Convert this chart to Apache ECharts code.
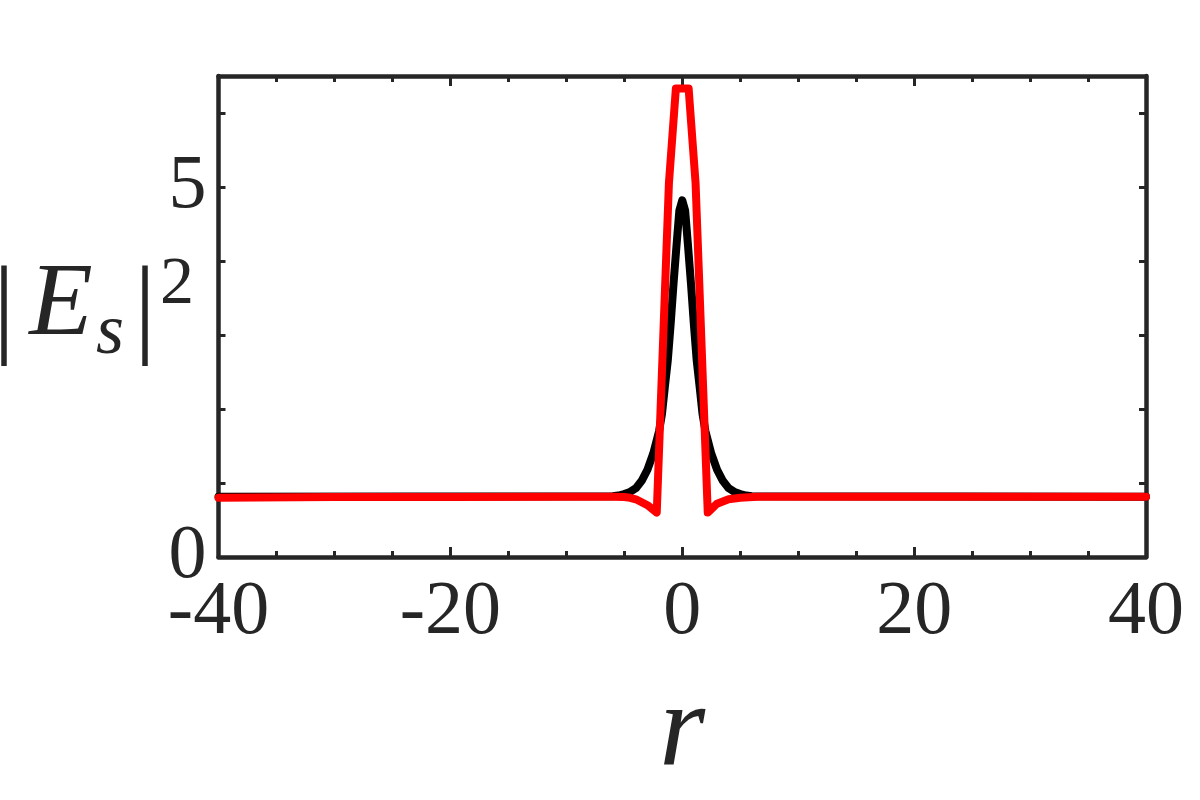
<!DOCTYPE html>
<html lang="en">

<head>
    <meta charset="UTF-8">
    <title>Es profile</title>
    <script src="https://cdn.jsdelivr.net/npm/echarts@6.0.0/dist/echarts.min.js"></script>
    <style>
        html, body { margin: 0; padding: 0; background: #fff; }
    </style>
</head>

<body>
    <div id="main" style="width: 1200px; height: 800px;"></div>
    <script>
        // black curve
        var blackR = [-40, -6, -5.5, -5, -4.5, -4, -3.5, -3, -2.5, -2, -1.75, -1.5, -1.25, -1, -0.75, -0.5, -0.25, 0,
            0.25, 0.5, 0.75, 1, 1.25, 1.5, 1.75, 2, 2.5, 3, 3.5, 4, 4.5, 5, 5.5, 6, 40];
        var blackV = [0.815, 0.82, 0.83, 0.85, 0.88, 0.93, 1.03, 1.18, 1.40, 1.70, 1.93, 2.30, 2.65, 3.15, 3.70, 4.20, 4.68, 4.82,
            4.68, 4.20, 3.70, 3.15, 2.65, 2.30, 1.93, 1.70, 1.40, 1.18, 1.03, 0.93, 0.88, 0.85, 0.83, 0.82, 0.815];

        // red curve
        var redR = [-40, -30, -20, -10, -6, -5, -4.5, -4, -3, -2.2, -1.15, -0.55,
            0.55, 1.15, 2.2, 3, 4, 5, 6.5, 10, 20, 30, 40];
        var redV = [0.80, 0.81, 0.81, 0.815, 0.815, 0.81, 0.80, 0.78, 0.70, 0.60, 5.05, 6.33,
            6.33, 5.05, 0.60, 0.72, 0.78, 0.80, 0.815, 0.815, 0.815, 0.815, 0.815];

        var xLabels = [-40, -20, 0, 20, 40];
        var yLabels = [0, 5];

        function pairs(xs, ys) {
            return xs.map(function (x, i) { return [x, ys[i]]; });
        }

        var ink = '#262626';
        var serif = 'Liberation Serif';

        var chartDom = document.getElementById('main');
        var myChart = echarts.init(chartDom);
        var option;

        function xAxisCfg(pos, showLabel) {
            return {
                type: 'value', position: pos, min: -40, max: 40, interval: 20,
                axisLine: { show: true, onZero: false, lineStyle: { color: ink, width: 4.5 } },
                axisTick: { show: true, inside: true, length: 10, lineStyle: { color: ink, width: 3 } },
                minorTick: { show: true, splitNumber: 4, length: 6, lineStyle: { color: ink, width: 3 } },
                splitLine: { show: false },
                axisLabel: {
                    show: showLabel, margin: 18, color: ink, fontFamily: serif, fontSize: 76,
                    formatter: function (v) { return xLabels.indexOf(v) >= 0 ? String(v) : ''; }
                }
            };
        }

        function yAxisCfg(pos, showLabel) {
            return {
                type: 'value', position: pos, min: 0, max: 6.5, interval: 1,
                axisLine: { show: true, onZero: false, lineStyle: { color: ink, width: 4.5 } },
                axisTick: { show: true, inside: true, length: 7, lineStyle: { color: ink, width: 3 } },
                splitLine: { show: false },
                axisLabel: {
                    show: showLabel, margin: 12, color: ink, fontFamily: serif, fontSize: 76,
                    formatter: function (v) { return yLabels.indexOf(v) >= 0 ? String(v) : ''; }
                }
            };
        }

        var xBottom = xAxisCfg('bottom', true);
        xBottom.name = 'r';
        xBottom.nameLocation = 'middle';
        xBottom.nameGap = 118;
        xBottom.nameTextStyle = { color: ink, fontFamily: serif, fontStyle: 'italic', fontSize: 118 };

        option = {
            backgroundColor: '#fff',
            animation: false,
            grid: { left: 218.5, right: 54, top: 76, bottom: 243, containLabel: false },
            xAxis: [xBottom, xAxisCfg('top', false)],
            yAxis: [yAxisCfg('left', true), yAxisCfg('right', false)],
            graphic: [
                { type: 'text', x: 4, y: 314, style: { text: '|', fontFamily: serif, fontSize: 110, fill: ink, align: 'center', verticalAlign: 'middle' } },
                { type: 'text', x: 61, y: 307, style: { text: 'E', fontFamily: serif, fontStyle: 'italic', fontSize: 104, fill: ink, align: 'center', verticalAlign: 'middle' } },
                { type: 'text', x: 110, y: 334, style: { text: 's', fontFamily: serif, fontStyle: 'italic', fontSize: 72, fill: ink, align: 'center', verticalAlign: 'middle' } },
                { type: 'text', x: 145, y: 314, style: { text: '|', fontFamily: serif, fontSize: 110, fill: ink, align: 'center', verticalAlign: 'middle' } },
                { type: 'text', x: 177, y: 285, style: { text: '2', fontFamily: serif, fontSize: 68, fill: ink, align: 'center', verticalAlign: 'middle' } }
            ],
            series: [
                {
                    type: 'line', data: pairs(blackR, blackV), showSymbol: false, z: 2,
                    lineStyle: { color: '#000', width: 8, join: 'round', cap: 'round' }
                },
                {
                    type: 'line', data: pairs(redR, redV), showSymbol: false, z: 3,
                    lineStyle: { color: '#ff0000', width: 8, join: 'round', cap: 'round' }
                }
            ]
        };

        option && myChart.setOption(option);
        window.addEventListener('resize', function () {
            myChart.resize();
        });
    </script>
</body>

</html>
